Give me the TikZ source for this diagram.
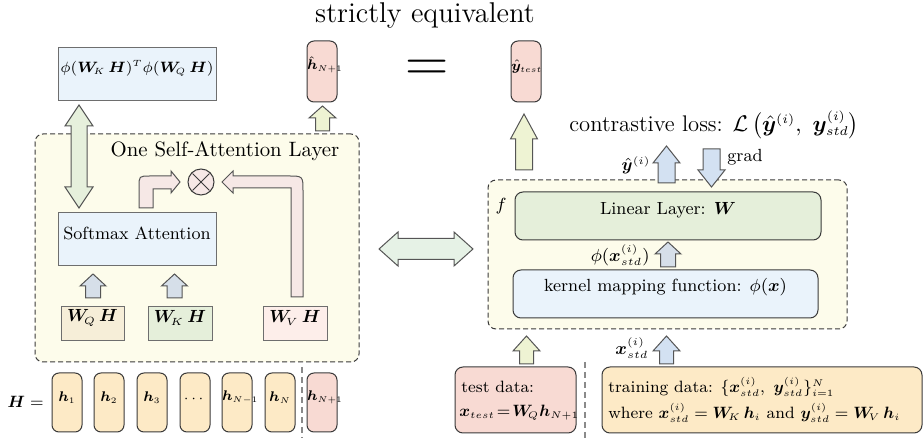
\RequirePackage{fix-cm}
\documentclass[tikz,border=0pt]{standalone}
\usepackage{amsmath,bm}
\usetikzlibrary{fit}
\DeclareMathSizes{8.8}{8.8}{5.2}{4}
\DeclareMathSizes{7.5}{7.5}{4.5}{3.6}
\DeclareMathSizes{8.2}{8.2}{4.8}{3.8}
\DeclareMathSizes{7}{7}{4.2}{3.4}
\DeclareMathSizes{11.3}{11.3}{6.4}{5}
\definecolor{lblue}{HTML}{EAF3FB}
\definecolor{pinkb}{HTML}{F8DAD3}
\definecolor{tanb}{HTML}{FDEAC6}
\definecolor{layerbg}{HTML}{FDFCEB}
\definecolor{greenb}{HTML}{E5EFDA}
\definecolor{wqb}{HTML}{F6EED8}
\definecolor{wvb}{HTML}{FDEEEA}
\definecolor{arrgreen}{HTML}{E6F0DC}
\definecolor{arrylw}{HTML}{EEF3D3}
\definecolor{arrgray}{HTML}{D6DFE9}
\definecolor{arrblue}{HTML}{D3E1F2}
\definecolor{arrpink}{HTML}{F6E8E6}
\definecolor{arrhoriz}{HTML}{E6F2E6}
\definecolor{bordergray}{HTML}{6E6E6E}
\definecolor{borderdark}{HTML}{3A3A3A}
\definecolor{arrline}{HTML}{555555}
\definecolor{dashgray}{HTML}{8A8A8A}
% vertical fat arrow: cx, ytail, ytip, shaft, head, headlen(signed: + if tip above)
\newcommand{\fatv}[7]{%
\filldraw[fat, fill=#7] ({#1-#4/2},#2) -- ({#1-#4/2},{#3+#6}) -- ({#1-#5/2},{#3+#6}) -- (#1,#3) -- ({#1+#5/2},{#3+#6}) -- ({#1+#4/2},{#3+#6}) -- ({#1+#4/2},#2) -- cycle;}
% vertical double fat arrow: cx, ytop, ybot, shaft, head, headlen
\newcommand{\fatvv}[7]{%
\filldraw[fat, fill=#7] ({#1-#4/2},{#2+#6}) -- ({#1-#5/2},{#2+#6}) -- (#1,#2) -- ({#1+#5/2},{#2+#6}) -- ({#1+#4/2},{#2+#6}) -- ({#1+#4/2},{#3-#6}) -- ({#1+#5/2},{#3-#6}) -- (#1,#3) -- ({#1-#5/2},{#3-#6}) -- ({#1-#4/2},{#3-#6}) -- cycle;}
% horizontal double fat arrow: cy, xleft, xright, shaft, head, headlen
\newcommand{\fathh}[7]{%
\filldraw[fat, fill=#7] ({#2+#6},{#1-#4/2}) -- ({#2+#6},{#1-#5/2}) -- (#2,#1) -- ({#2+#6},{#1+#5/2}) -- ({#2+#6},{#1+#4/2}) -- ({#3-#6},{#1+#4/2}) -- ({#3-#6},{#1+#5/2}) -- (#3,#1) -- ({#3-#6},{#1-#5/2}) -- ({#3-#6},{#1-#4/2}) -- cycle;}
\begin{document}
\begin{tikzpicture}[x=0.5pt,y=-0.5pt,
  box/.style={draw=bordergray, line width=0.5pt, inner sep=0pt},
  rbox/.style={draw=borderdark, line width=0.5pt, rounded corners=3.5pt, inner sep=0pt},
  layerbox/.style={draw=borderdark, line width=0.5pt, dash pattern=on 2.5pt off 1.5pt, rounded corners=4pt, fill=layerbg, inner sep=0pt},
  sep/.style={draw=dashgray, line width=0.6pt, dash pattern=on 3pt off 2pt},
  fat/.style={draw=arrline, line width=0.5pt, line join=miter},
  txt/.style={inner sep=0pt},
  ftitle/.style={font=\fontsize{14.3}{17}\selectfont},
  flayer/.style={font=\fontsize{10.4}{12.5}\selectfont},
  fmain/.style={font=\fontsize{8.8}{10.5}\selectfont},
  fphi/.style={font=\fontsize{7.5}{9}\selectfont},
  floss/.style={font=\fontsize{11.3}{13.5}\selectfont},
  fsmall/.style={font=\fontsize{8.2}{10}\selectfont},
  ftiny/.style={font=\fontsize{7}{8}\selectfont}]
\useasboundingbox (0,0) rectangle (923,438);

% title and top row
\node[txt, ftitle] (title) at (425,15) {strictly equivalent};
\node[box, fill=lblue, fphi, fit={(58,48) (216,101)}] (phibox) {$\phi(\bm{W}_{\!K}\,\bm{H})^T\phi(\bm{W}_{\!Q}\,\bm{H})$};
\node[rbox, fill=pinkb, ftiny, fit={(307,41) (337,102)}] (hhat) {$\hat{\bm{h}}_{N+1}$};
\node[txt, font=\fontsize{30}{30}\selectfont] (eq) at (427,71) {$=$};
\node[rbox, fill=pinkb, ftiny, fit={(511,41) (541,102)}] (ytest) {$\hat{\bm{y}}_{test}$};

% self-attention layer
\node[layerbox, fit={(35,134) (359,362)}] (layer) {};
\node[txt, flayer] (layertitle) at (225,151) {One Self-Attention Layer};
\node[box, fill=lblue, fmain, fit={(58,213) (216,266)}] (softmax) {Softmax Attention};
\node[draw=borderdark, line width=0.5pt, fill=arrpink, circle, minimum size=13pt, inner sep=0pt] (otimes) at (201,182) {};
\draw[borderdark, line width=0.5pt] ([shift={(-4.2pt,-4.2pt)}]otimes.center) -- ([shift={(4.2pt,4.2pt)}]otimes.center);
\draw[borderdark, line width=0.5pt] ([shift={(-4.2pt,4.2pt)}]otimes.center) -- ([shift={(4.2pt,-4.2pt)}]otimes.center);
\node[box, fill=wqb, fmain, fit={(61,307) (124,341)}] (wq) {$\bm{W}_{\!Q}\,\bm{H}$};
\node[box, fill=greenb, fmain, fit={(148,307) (212,341)}] (wk) {$\bm{W}_{\!K}\,\bm{H}$};
\node[box, fill=wvb, fmain, fit={(263,307) (327,341)}] (wv) {$\bm{W}_{\!V}\,\bm{H}$};

% arrows, left part
\fatvv{79}{105}{208}{16}{28}{21}{arrgreen}
\fatv{322.5}{131}{106}{14}{27}{12}{arrylw}
\fatv{93}{298}{274}{15}{26}{12}{arrgray}
\fatv{174.5}{298}{274}{15}{26}{12}{arrgray}
\filldraw[fat, fill=arrpink] (139,208) -- (139,187) .. controls (139,176) .. (150,176) -- (171,176) -- (171,171) -- (180,182) -- (171,193) -- (171,189) -- (153,189) -- (153,208) -- cycle;
\filldraw[fat, fill=arrpink] (303,297) -- (303,191) .. controls (303,176) .. (288,176) -- (233,176) -- (233,171) -- (222,182) -- (233,193) -- (233,188) -- (291,188) -- (291,297) -- cycle;

% H row
\node[txt, fsmall, anchor=east] (Hlab) at (44,402) {$\bm{H}=$};
\node[rbox, fill=tanb, ftiny, fit={(52,373) (82,432)}] (h1) {$\bm{h}_1$};
\node[rbox, fill=tanb, ftiny, fit={(94,373) (124,432)}] (h2) {$\bm{h}_2$};
\node[rbox, fill=tanb, ftiny, fit={(137,373) (167,432)}] (h3) {$\bm{h}_3$};
\node[rbox, fill=tanb, ftiny, fit={(180,373) (210,432)}] (hdots) {$\cdots$};
\node[rbox, fill=tanb, ftiny, fit={(222,373) (252,432)}] (hN1) {$\bm{h}_{N-1}$};
\node[rbox, fill=tanb, ftiny, fit={(265,373) (295,432)}] (hN) {$\bm{h}_N$};
\node[rbox, fill=pinkb, ftiny, fit={(307,373) (337,432)}] (hNp) {$\bm{h}_{N+1}$};
\coordinate (sepAtop) at (302,367);
\coordinate (sepAbot) at (302,438);
\draw[sep] (sepAtop) -- (sepAbot);

% middle double arrow
\fathh{249}{379}{473}{21}{34}{19}{arrhoriz}

% right part
\fatv{524}{170}{114}{17}{27}{25}{arrylw}
\node[txt, floss, anchor=west] (loss) at (569,125) {contrastive loss: $\mathcal{L}\,\big(\hat{\bm{y}}^{(i)},\ \bm{y}^{(i)}_{std}\big)$};
\node[layerbox, fit={(488,180) (847,329)}] (fbox) {};
\node[txt, fmain] (flab) at (501,206) {$f$};
\node[rbox, rounded corners=4pt, fill=greenb, fmain, fit={(515,192) (821,240)}] (linear) {Linear Layer: $\bm{W}$};
\node[rbox, rounded corners=4pt, fill=lblue, fmain, fit={(513,270) (818,318)}] (kernel) {kernel mapping function: $\phi(\bm{x})$};
\fatv{668}{267}{242}{15}{26}{12}{arrgray}
\node[txt, fmain, anchor=east] (philab) at (650,255) {$\phi(\bm{x}^{(i)}_{std})$};
\fatv{666.5}{183}{146}{17}{27}{17}{arrblue}
\node[txt, fmain, anchor=east] (yilab) at (651,165) {$\hat{\bm{y}}^{(i)}$};
\fatv{711.5}{149}{187}{17}{27}{-17}{arrblue}
\node[txt, fmain, anchor=west] (gradlab) at (727,157) {grad};

% bottom right
\fatv{526.5}{364}{336}{14}{27}{15}{arrylw}
\fatv{666.5}{364}{336}{14}{27}{15}{arrblue}
\node[txt, fmain, anchor=east] (xstdlab) at (649,348) {$\bm{x}^{(i)}_{std}$};
\node[rbox, rounded corners=4pt, fill=pinkb, fit={(455,367) (576,433)}] (test) {};
\node[txt, fsmall, anchor=west] (testl1) at (461,387) {test data:};
\node[txt, fsmall, anchor=west] (testl2) at (459,413) {$\bm{x}_{test}\!=\!\bm{W}_{\!Q}\bm{h}_{N+1}$};
\coordinate (sepBtop) at (585,362);
\coordinate (sepBbot) at (585,438);
\draw[sep] (sepBtop) -- (sepBbot);
\node[rbox, rounded corners=4pt, fill=tanb, fit={(602,367) (922,433)}] (train) {};
\node[txt, fsmall, anchor=west] (trainl1) at (608,387) {training data: $\{\bm{x}^{(i)}_{std},\ \bm{y}^{(i)}_{std}\}_{i=1}^{N}$};
\node[txt, fsmall, anchor=west] (trainl2) at (608,413) {where $\bm{x}^{(i)}_{std}=\bm{W}_{\!K}\,\bm{h}_i$ and $\bm{y}^{(i)}_{std}=\bm{W}_{\!V}\,\bm{h}_i$};
\end{tikzpicture}
\end{document}
